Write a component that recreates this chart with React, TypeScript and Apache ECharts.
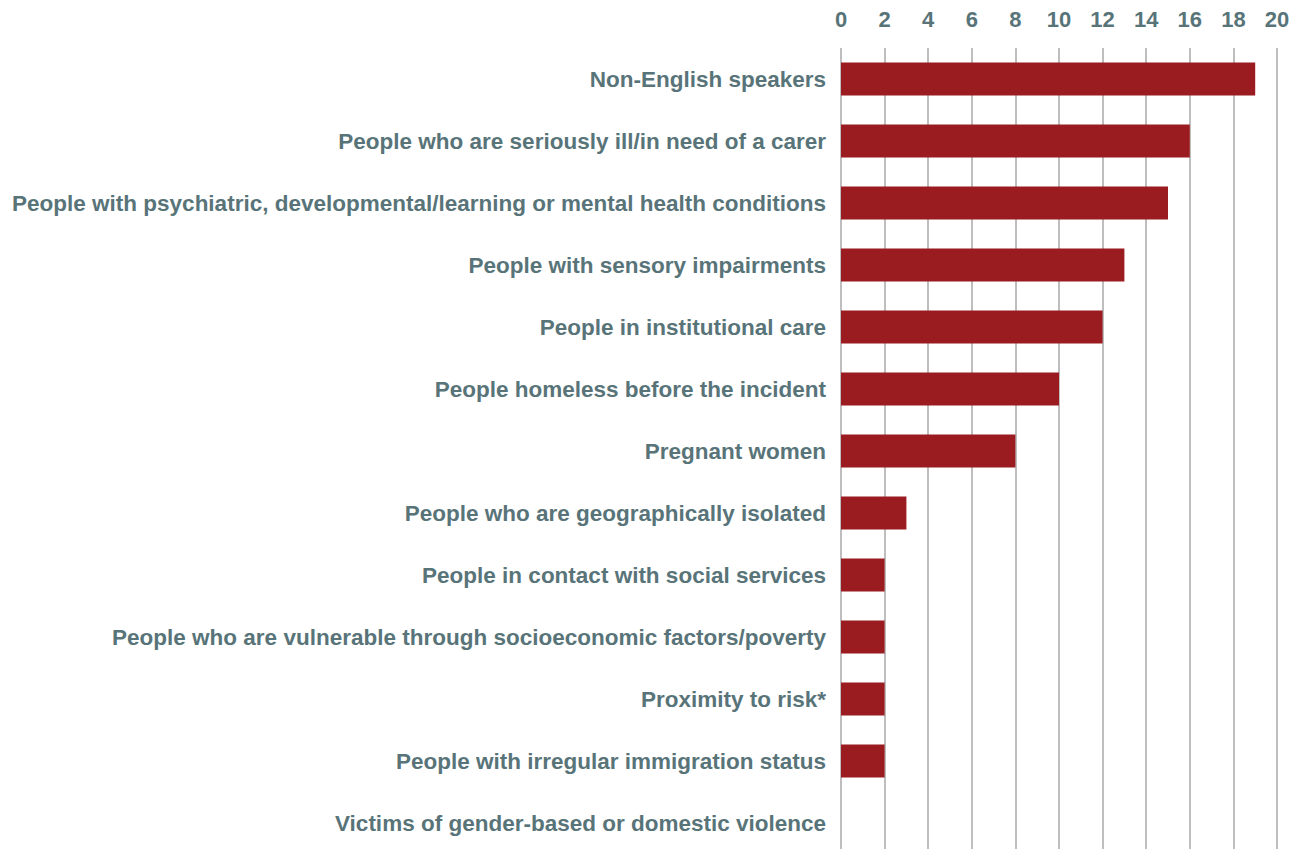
import React, { useEffect, useRef } from "react";
import * as echarts from "echarts";

const categories = [
  "Non-English speakers",
  "People who are seriously ill/in need of a carer",
  "People with psychiatric, developmental/learning or mental health conditions",
  "People with sensory impairments",
  "People in institutional care",
  "People homeless before the incident",
  "Pregnant women",
  "People who are geographically isolated",
  "People in contact with social services",
  "People who are vulnerable through socioeconomic factors/poverty",
  "Proximity to risk*",
  "People with irregular immigration status",
  "Victims of gender-based or domestic violence",
];
const values = [19, 16, 15, 13, 12, 10, 8, 3, 2, 2, 2, 2, 0];
const xTicks = { min: 0, max: 20, step: 2 };

const TEXT = "#587479";
const BAR = "#9b1c20";
const FONT = "Liberation Sans, Arial, sans-serif";

export default function App() {
  const ref = useRef<HTMLDivElement>(null);
  useEffect(() => {
    document.body.style.margin = "0";
    const chart = echarts.init(ref.current!, undefined, { renderer: "svg" });
    chart.setOption({
      animation: false,
      backgroundColor: "#ffffff",
      grid: { left: 841, right: 24, top: 48, height: 806, containLabel: false },
      xAxis: {
        type: "value",
        position: "top",
        min: xTicks.min,
        max: xTicks.max,
        interval: xTicks.step,
        axisLine: { show: false },
        axisTick: { show: false },
        axisLabel: {
          color: TEXT,
          fontSize: 22,
          fontWeight: "bold",
          fontFamily: FONT,
          margin: 18,
        },
        splitLine: { show: true, lineStyle: { color: "#a8a8a8", width: 1.5 } },
      },
      yAxis: {
        type: "category",
        inverse: true,
        data: categories,
        axisLine: { show: false },
        axisTick: { show: false },
        axisLabel: {
          color: TEXT,
          fontSize: 22.5,
          fontWeight: "bold",
          fontFamily: FONT,
          margin: 15,
        },
        splitLine: { show: false },
      },
      series: [
        {
          type: "bar",
          data: values,
          barWidth: 33,
          itemStyle: { color: BAR },
        },
      ],
    });
    return () => chart.dispose();
  }, []);
  return (
    <div style={{ position: "absolute", left: 0, top: 0, width: 1301, height: 849, overflow: "hidden" }}>
      <div ref={ref} style={{ width: 1301, height: 870 }} />
    </div>
  );
}
